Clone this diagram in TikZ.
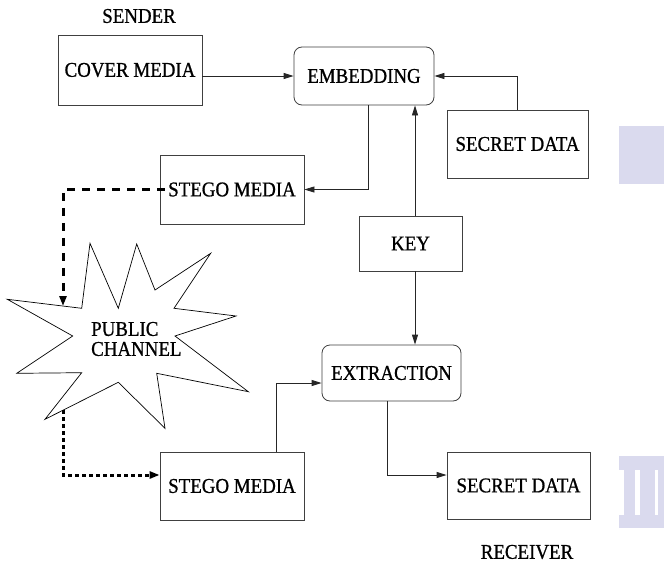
\documentclass[tikz,border=0pt]{standalone}
\usepackage{fontspec}
\setmainfont{Liberation Serif}[FakeStretch=0.9,FakeBold=0.8]
\usetikzlibrary{arrows.meta}
\definecolor{wm}{RGB}{218,218,238}
\begin{document}
\begin{tikzpicture}[x=1pt,y=-1pt,
  font=\fontsize{21}{22}\selectfont,
  box/.style={draw=black!75,line width=0.8pt,inner sep=0pt},
  rbox/.style={box,rounded corners=8pt},
  lab/.style={inner sep=0pt},
  arr/.style={draw=black!85,line width=0.8pt,-{Triangle[length=10pt,width=6pt]}},
  thickdash/.style={line width=3pt,dash pattern=on 8pt off 7pt,-{Triangle[length=10pt,width=7pt]}},
  thickdot/.style={line width=3pt,dash pattern=on 4pt off 3pt,-{Triangle[length=10pt,width=7pt]}}]
\useasboundingbox (0,0) rectangle (664,562);
\fill[white] (0,0) rectangle (664,562);
% watermark fragments
\fill[wm] (619,126) rectangle (664,184);
\fill[wm] (619,456) rectangle (664,470);
\fill[wm] (619,515) rectangle (664,528);
\fill[wm] (624,470) rectangle (635,515);
\fill[wm] (640,470) rectangle (655,515);
\fill[wm] (658,470) rectangle (664,515);
% nodes
\node[lab] (sender) at (139,16) {SENDER};
\node[lab] (receiver) at (527,552) {RECEIVER};
\node[box,minimum width=144pt,minimum height=70pt] (cover) at (130,70) {COVER MEDIA};
\node[rbox,minimum width=140pt,minimum height=58pt] (embed) at (364,76) {EMBEDDING};
\node[box,minimum width=141pt,minimum height=68pt] (secret1) at (517.5,144) {SECRET DATA};
\node[box,minimum width=144pt,minimum height=69pt] (stego1) at (232,189.5) {STEGO MEDIA};
\node[box,minimum width=103pt,minimum height=55pt] (key) at (410.5,243.5) {KEY};
\node[rbox,minimum width=139pt,minimum height=56pt] (extract) at (391.5,373) {EXTRACTION};
\node[box,minimum width=144pt,minimum height=68pt] (stego2) at (232,486) {STEGO MEDIA};
\node[box,minimum width=143pt,minimum height=67pt] (secret2) at (518.5,485.5) {SECRET DATA};
% star
\draw[black,line width=0.7pt,fill=white] (7.3,299.3) -- (81.7,308.3) -- (90,243.3) -- (118.3,308.3) -- (136.7,244) -- (155,290) -- (210.7,253.3) -- (174,308.3) -- (236,316) -- (175,336) -- (248.3,391.7) -- (156.7,373.3) -- (165,428.3) -- (118.3,382.3) -- (45,419.3) -- (81.7,372.7) -- (16.7,373.3) -- (72.7,336) -- cycle;
\node[lab,align=left,anchor=west,font=\fontsize{21}{20}\selectfont] (channel) at (91,339) {PUBLIC\\CHANNEL};
% coordinates
\coordinate (kx) at (415,0);
\coordinate (ex) at (276,383);
\coordinate (sx) at (387,475);
\coordinate (dcorner) at (63,189.5);
\coordinate (starin) at (63,306);
\coordinate (starout) at (63,410);
\coordinate (dotcorner) at (63,475);
\coordinate (embx) at (368,0);
% connectors
\draw[arr] (cover.east |- embed.west) -- (embed.west);
\draw[arr] (secret1.north) -- (secret1.north |- embed.east) -- (embed.east);
\draw[arr] (embed.south -| embx) -- (embx |- stego1.east) -- (stego1.east);
\draw[arr] (key.north -| kx) -- (embed.south -| kx);
\draw[arr] (key.south -| kx) -- (extract.north -| kx);
\draw[arr] (stego2.north -| ex) -- (ex) -- (extract.west |- ex);
\draw[arr] (extract.south -| sx) -- (sx) -- (secret2.west |- sx);
\draw[thickdash] ([xshift=5pt]stego1.west) -- (dcorner) -- (starin);
\draw[thickdot] (starout) -- (dotcorner) -- (stego2.west |- dotcorner);
\end{tikzpicture}
\end{document}
